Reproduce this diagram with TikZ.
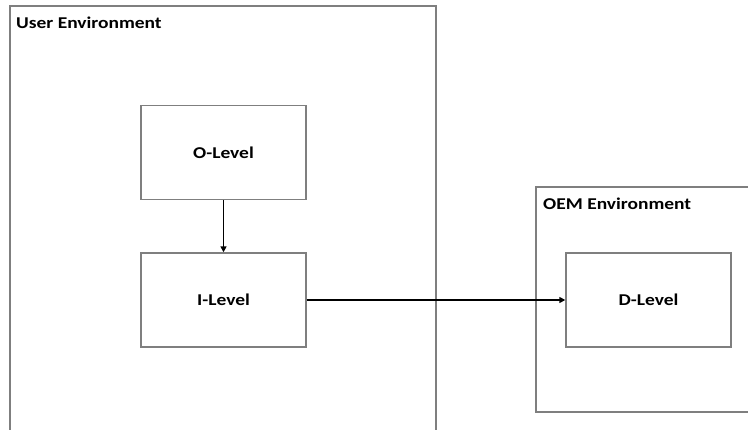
\documentclass[tikz,border=0pt]{standalone}
\usepackage{fontspec}
\setmainfont{Carlito}[FakeStretch=1.18]
\usetikzlibrary{arrows.meta}
\definecolor{boxgray}{HTML}{7F7F7F}
\tikzset{
  lvlbox/.style={draw=boxgray, line width=1.4pt, fill=white, minimum width=165pt, minimum height=94pt, inner sep=0pt, font=\bfseries\fontsize{16.5}{19}\selectfont},
  envbox/.style={draw=boxgray, line width=1.4pt},
  envlabel/.style={anchor=west, inner sep=0pt, font=\bfseries\fontsize{16.5}{19}\selectfont},
  conn/.style={draw=black, line width=1.5pt, -{Triangle[length=6pt,width=6pt]}}
}
\begin{document}
\begin{tikzpicture}[x=1pt,y=-1pt]
\useasboundingbox (0,0) rectangle (748,430);
\clip (0,0) rectangle (748,430);
\draw[envbox] (10,6) rectangle (436,445);
\draw[envbox] (536,187) rectangle (760,412);
\node[envlabel] (userlbl) at (16,23) {User Environment};
\node[envlabel] (oemlbl) at (543,204) {OEM Environment};
\node[lvlbox] (olevel) at (223.5,152.5) {O-Level};
\node[lvlbox] (ilevel) at (223.5,300) {I-Level};
\node[lvlbox] (dlevel) at (648.5,300) {D-Level};
\draw[conn] (olevel) -- (ilevel);
\draw[conn] (ilevel) -- (dlevel);
\end{tikzpicture}
\end{document}
